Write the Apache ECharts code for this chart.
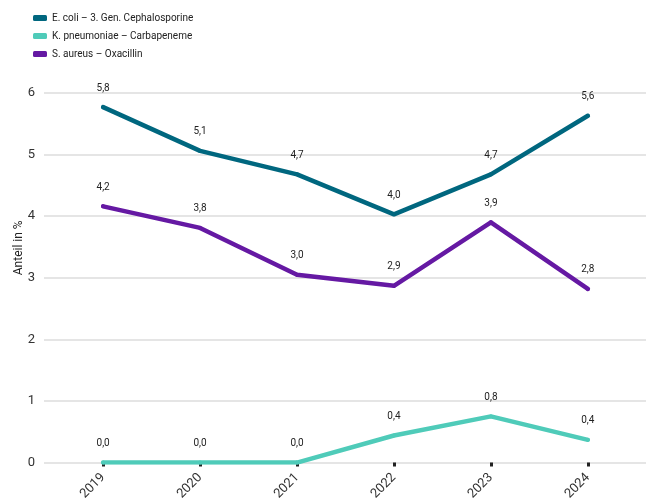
<!DOCTYPE html>
<html>
<head>
<meta charset="utf-8">
<script src="https://cdn.jsdelivr.net/npm/echarts@6/dist/echarts.min.js"></script>
<style>
html, body { margin: 0; padding: 0; background: #fff; }
#main { width: 652px; height: 503px; }
</style>
</head>
<body>
<div id="main"></div>
<script>
var years = [2019, 2020, 2021, 2022, 2023, 2024];
var eColi = [5.77, 5.06, 4.68, 4.03, 4.68, 5.63];
var kPneu = [0.0, 0.0, 0.0, 0.44, 0.75, 0.37];
var sAureus = [4.16, 3.81, 3.05, 2.87, 3.9, 2.82];
var seriesNames = ['E. coli – 3. Gen. Cephalosporine', 'K. pneumoniae – Carbapeneme', 'S. aureus – Oxacillin'];
var colors = ['#00677f', '#4fcbb9', '#6519a3'];

function pairs(vals) {
  return vals.map(function (v, i) { return [years[i], v]; });
}

function makeSeries(name, vals, color) {
  return {
    name: name,
    type: 'line',
    data: pairs(vals),
    showSymbol: true,
    symbol: 'circle',
    symbolSize: 4,
    itemStyle: { color: color },
    lineStyle: { width: 4.5, color: color, cap: 'round', join: 'round' },
    label: {
      show: true,
      position: 'top',
      distance: 12,
      fontSize: 10,
      color: '#222',
      fontFamily: 'Roboto',
      formatter: function (p) { return p.value[1].toFixed(1).replace('.', ','); }
    },
    emphasis: { disabled: true }
  };
}

var myChart = echarts.init(document.getElementById('main'));

var option = {
  animation: false,
  textStyle: { fontFamily: 'Roboto' },
  color: colors,
  legend: {
    orient: 'vertical',
    left: 28,
    top: 8,
    itemWidth: 14,
    itemHeight: 6,
    itemGap: 8,
    icon: 'roundRect',
    textStyle: { fontSize: 10, color: '#222' },
    data: seriesNames
  },
  grid: { left: 44, right: 6, top: 93, bottom: 40 },
  xAxis: {
    type: 'value',
    min: 2018.39,
    max: 2024.6,
    splitLine: { show: false },
    axisLine: { show: false },
    offset: 5,
    axisTick: {
      show: true,
      customValues: years,
      length: 4,
      lineStyle: { width: 3, color: '#222' }
    },
    axisLabel: {
      customValues: years,
      rotate: 45,
      margin: 8,
      fontSize: 13,
      color: '#333',
      formatter: function (v) { return String(v); }
    }
  },
  yAxis: {
    type: 'value',
    min: 0,
    max: 6,
    interval: 1,
    name: 'Anteil in %',
    nameLocation: 'middle',
    nameGap: 19,
    nameMoveOverlap: false,
    nameTextStyle: { fontSize: 12, color: '#222', padding: [0, 0, 0, 60] },
    axisLabel: { fontSize: 13, color: '#333', margin: 9 },
    axisLine: { show: false },
    axisTick: { show: false },
    splitLine: { lineStyle: { color: '#dcdcdc', width: 1.5 } }
  },
  series: [
    makeSeries(seriesNames[0], eColi, colors[0]),
    makeSeries(seriesNames[1], kPneu, colors[1]),
    makeSeries(seriesNames[2], sAureus, colors[2])
  ]
};

myChart.setOption(option);
</script>
</body>
</html>
